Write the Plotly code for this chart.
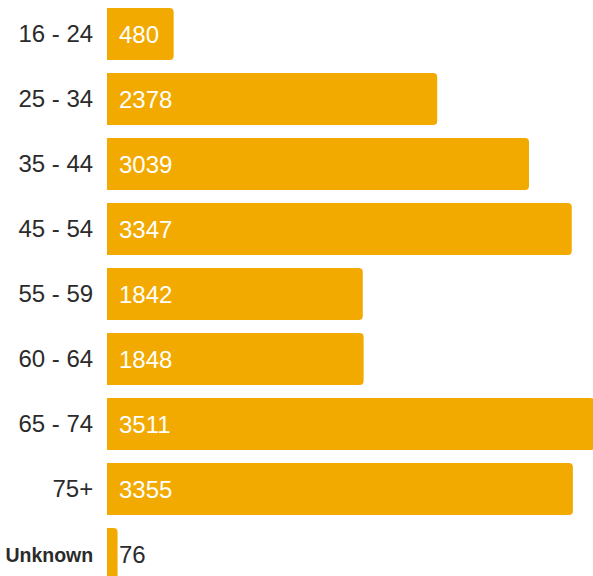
import plotly.graph_objects as go

categories = ["16 - 24", "25 - 34", "35 - 44", "45 - 54", "55 - 59", "60 - 64", "65 - 74", "75+", "Unknown"]
values = [480, 2378, 3039, 3347, 1842, 1848, 3511, 3355, 76]
tick_labels = ["16 - 24", "25 - 34", "35 - 44", "45 - 54", "55 - 59", "60 - 64", "65 - 74", "75+",
               "<b><span style='font-size:19.5px'>Unknown</span></b>"]

BAR = "#F2AA00"
DARK = "#2b2b2b"
FONT = "Liberation Sans, Arial, sans-serif"

fig = go.Figure()
fig.add_trace(go.Bar(
    x=values, y=categories, orientation="h",
    marker=dict(color=BAR, line=dict(width=0)),
    hoverinfo="skip",
))

annotations = []
for c, v in zip(categories, values):
    inside = v > 300
    annotations.append(dict(
        x=0 if inside else v, y=c, xref="x", yref="y",
        text=str(v), showarrow=False, xanchor="left", yanchor="middle",
        xshift=10 if inside else -1,
        font=dict(family=FONT, size=24, color="white" if inside else DARK),
    ))

fig.update_layout(
    width=593, height=576,
    margin=dict(l=107, r=0, t=0, b=0),
    paper_bgcolor="white", plot_bgcolor="white",
    bargap=0.2, barcornerradius=4,
    showlegend=False,
    annotations=annotations,
    xaxis=dict(range=[0, 3500], visible=False, fixedrange=True),
    yaxis=dict(
        range=[8.338, -0.523],
        tickmode="array", tickvals=categories, ticktext=tick_labels,
        tickfont=dict(family=FONT, size=24, color=DARK),
        ticks="outside", ticklen=8, tickcolor="rgba(0,0,0,0)",
        showgrid=False, zeroline=False, showline=False,
    ),
    font=dict(family=FONT),
)

fig.write_html("out.html")
